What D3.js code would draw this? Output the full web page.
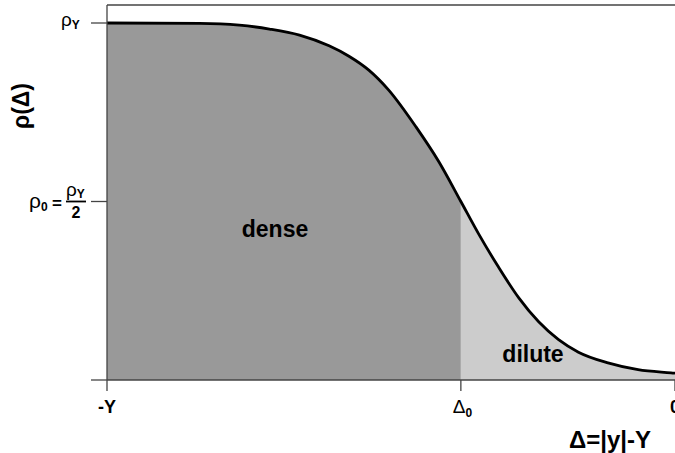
<!DOCTYPE html>
<html>
<head>
<meta charset="utf-8">
<script src="https://cdn.jsdelivr.net/npm/d3@7"></script>
<style>
  body { margin: 0; background: #fff; }
  text { font-family: "Liberation Sans", Arial, sans-serif; }
</style>
</head>
<body>
<script>
// density profile (rho / rho_Y against Delta / Y)
let deltas = [-1.0, -0.837, -0.767, -0.714, -0.661, -0.609, -0.574, -0.539, -0.504, -0.456, -0.416, -0.377,
              -0.346, -0.311, -0.275, -0.240, -0.205, -0.170, -0.118, -0.065, -0.007, 0.0];
let rhos = [1.0, 0.999, 0.994, 0.983, 0.966, 0.936, 0.907, 0.868, 0.812, 0.709, 0.612, 0.5,
            0.41, 0.317, 0.23, 0.163, 0.113, 0.078, 0.048, 0.029, 0.020, 0.019];
let delta0 = -0.377;
let xTicks = [-1, delta0, 0];
let yTicks = [0, 0.5, 1];

let width = 675;
let height = 453;
let marges = { top: 5, right: 0, bottom: 73, left: 107 };

let svg = d3.select("body").append("svg")
    .attr("width", width)
    .attr("height", height);

let x = d3.scaleLinear().domain([-1, 0]).range([marges.left, width - marges.right]);
let y = d3.scaleLinear().domain([0, 1]).range([height - marges.bottom, 23]);

let data = deltas.map((d, i) => ({ d: d, r: rhos[i] }));

// on coupe en deux : dense a gauche de delta0, dilute a droite
let dense = data.filter(p => p.d <= delta0);
let dilute = data.filter(p => p.d >= delta0);

let area = d3.area()
    .x(p => x(p.d))
    .y0(y(0))
    .y1(p => y(p.r))
    .curve(d3.curveMonotoneX);

svg.append("path").datum(dense).attr("d", area).attr("fill", "#999999");
svg.append("path").datum(dilute).attr("d", area).attr("fill", "#cccccc");

svg.append("path")
    .datum(data)
    .attr("d", d3.line().x(p => x(p.d)).y(p => y(p.r)).curve(d3.curveMonotoneX))
    .attr("fill", "none")
    .attr("stroke", "#000")
    .attr("stroke-width", 2.8);

// cadre
let frame = svg.append("g").attr("stroke", "#444").attr("stroke-width", 1.3).attr("fill", "none");
frame.append("line").attr("x1", x(-1)).attr("x2", width).attr("y1", marges.top).attr("y2", marges.top);
frame.append("line").attr("x1", x(-1)).attr("x2", x(-1)).attr("y1", marges.top).attr("y2", y(0));
frame.append("line").attr("x1", x(-1)).attr("x2", width).attr("y1", y(0)).attr("y2", y(0));

// ticks
yTicks.forEach(t => {
    frame.append("line").attr("x1", x(-1) - 16).attr("x2", x(-1)).attr("y1", y(t)).attr("y2", y(t));
});
xTicks.forEach(t => {
    frame.append("line").attr("x1", x(t)).attr("x2", x(t)).attr("y1", y(0)).attr("y2", y(0) + 11);
});

// etiquettes de l'axe y
let lab = svg.append("g").attr("fill", "#000");
let t1 = lab.append("text").attr("x", 61).attr("y", y(1) + 3).style("font-size", "19px");
t1.append("tspan").text("ρ");
t1.append("tspan").attr("dy", 3).style("font-size", "12px").style("font-weight", "bold").text("Y");

let t2 = lab.append("text").attr("x", 29).attr("y", y(0.5) + 6).style("font-size", "21px");
t2.append("tspan").text("ρ");
t2.append("tspan").attr("dy", 3).style("font-size", "12px").style("font-weight", "bold").text("0");
lab.append("text").attr("x", 52).attr("y", y(0.5) + 7).style("font-size", "17px").style("font-weight", "bold").text("=");
let t3 = lab.append("text").attr("x", 66).attr("y", y(0.5) - 6).style("font-size", "19px");
t3.append("tspan").text("ρ");
t3.append("tspan").attr("dy", 2).style("font-size", "12px").style("font-weight", "bold").text("Y");
lab.append("line").attr("x1", 66).attr("x2", 86).attr("y1", y(0.5)).attr("y2", y(0.5))
    .attr("stroke", "#000").attr("stroke-width", 1.8);
lab.append("text").attr("x", 76).attr("y", y(0.5) + 16).attr("text-anchor", "middle")
    .style("font-size", "16px").style("font-weight", "bold").text("2");

lab.append("text")
    .attr("transform", "translate(29,106) rotate(-90)")
    .attr("text-anchor", "middle")
    .style("font-size", "23px").style("font-weight", "bold")
    .text("ρ(Δ)");

// etiquettes de l'axe x
lab.append("text").attr("x", x(-1)).attr("y", 413).attr("text-anchor", "middle")
    .style("font-size", "18px").style("font-weight", "bold").text("-Y");
let t4 = lab.append("text").attr("x", x(delta0) - 8).attr("y", 413).style("font-size", "19px");
t4.append("tspan").text("Δ");
t4.append("tspan").attr("dy", 4).style("font-size", "12px").style("font-weight", "bold").text("0");
lab.append("text").attr("x", x(0)).attr("y", 413).attr("text-anchor", "middle")
    .style("font-size", "18px").style("font-weight", "bold").text("0");

lab.append("text").attr("x", 651).attr("y", 448).attr("text-anchor", "end")
    .style("font-size", "24px").style("font-weight", "bold").text("Δ=|y|-Y");

// zones
lab.append("text").attr("x", 275).attr("y", 237).attr("text-anchor", "middle")
    .style("font-size", "23px").style("font-weight", "bold").text("dense");
lab.append("text").attr("x", 533).attr("y", 362).attr("text-anchor", "middle")
    .style("font-size", "23px").style("font-weight", "bold").text("dilute");
</script>
</body>
</html>
